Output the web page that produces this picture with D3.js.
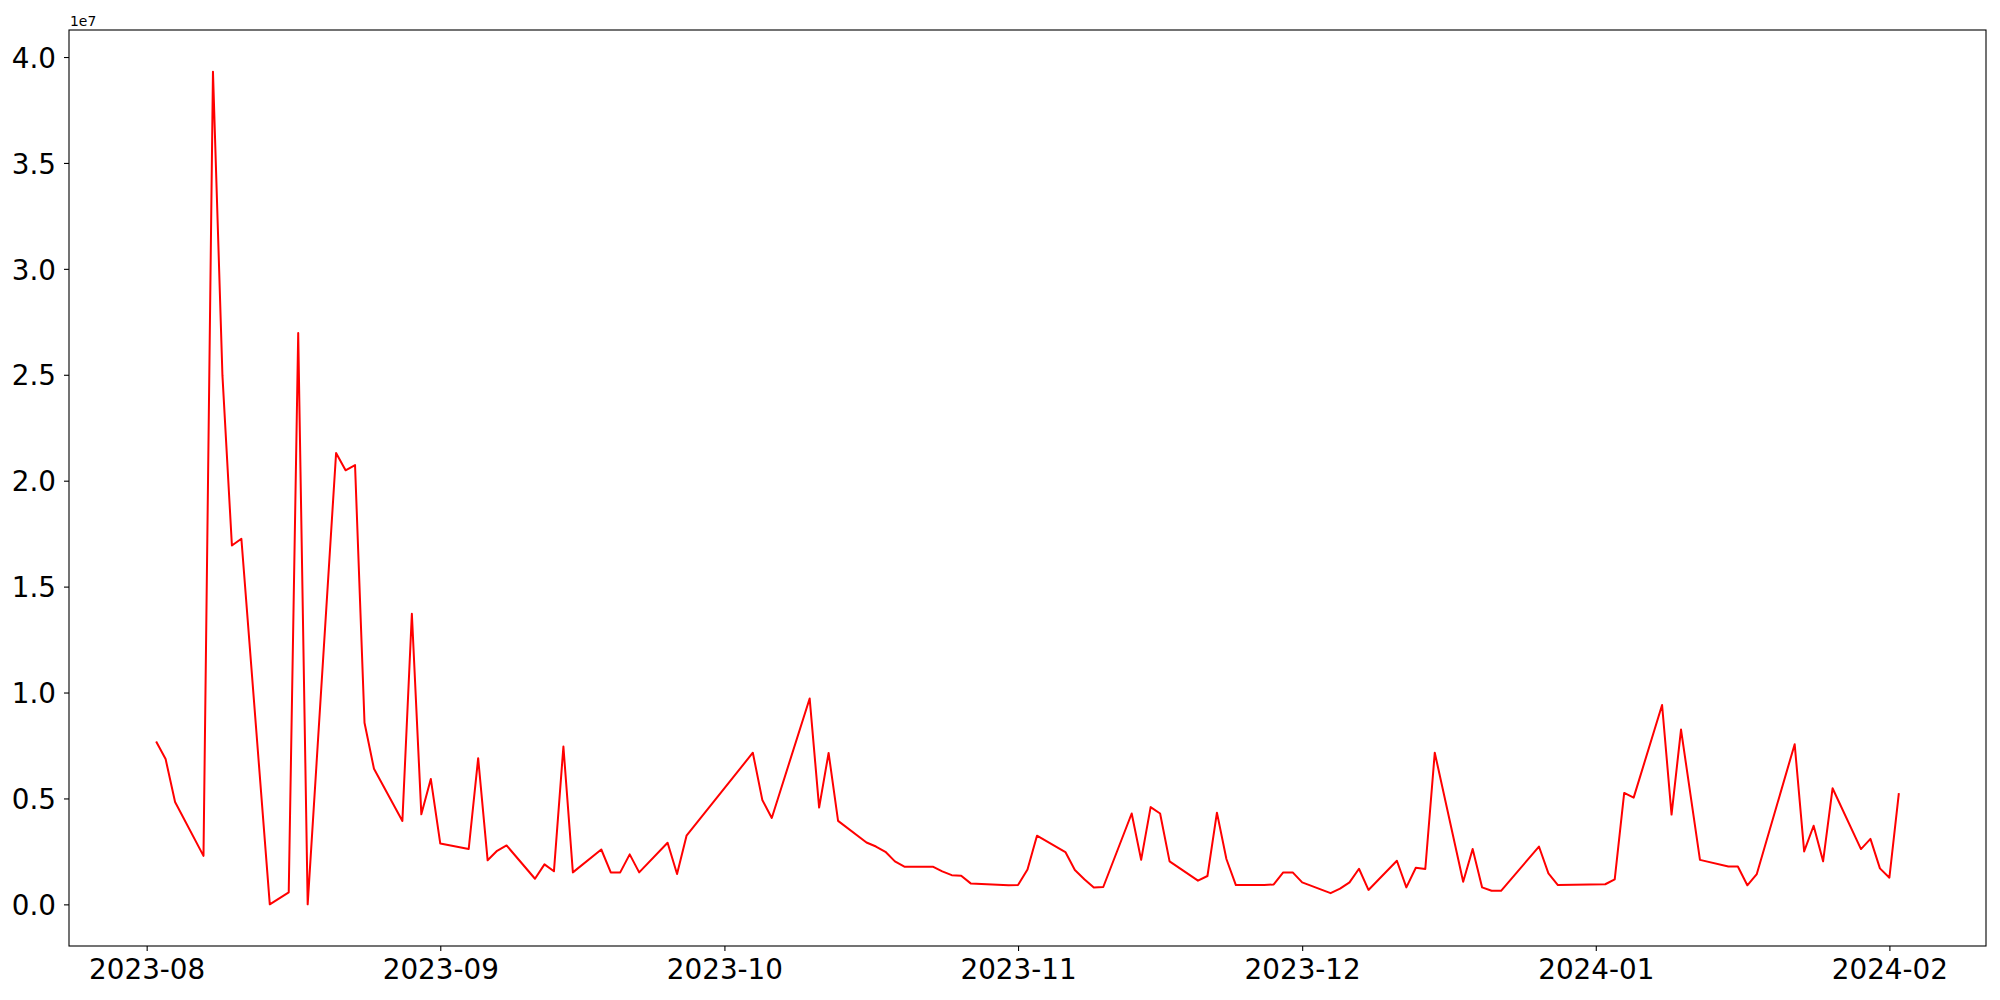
<!DOCTYPE html>
<html>
<head>
<meta charset="utf-8">
<script src="https://cdn.jsdelivr.net/npm/d3@7"></script>
<style>
  html, body { margin: 0; padding: 0; background: #fff; }
  #chart text { font-family: "DejaVu Sans", sans-serif; fill: #000; }
</style>
</head>
<body>
<div id="chart"></div>
<script>
// Trading days.
const dates = [
  '2023-08-02','2023-08-03','2023-08-04','2023-08-07','2023-08-08','2023-08-09','2023-08-10','2023-08-11',
  '2023-08-14','2023-08-16','2023-08-17','2023-08-18','2023-08-21','2023-08-22','2023-08-23','2023-08-24',
  '2023-08-25','2023-08-28','2023-08-29','2023-08-30','2023-08-31','2023-09-01','2023-09-04','2023-09-05',
  '2023-09-06','2023-09-07','2023-09-08','2023-09-11','2023-09-12','2023-09-13','2023-09-14','2023-09-15',
  '2023-09-18','2023-09-19','2023-09-20','2023-09-21','2023-09-22','2023-09-25','2023-09-26','2023-09-27',
  '2023-10-04','2023-10-05','2023-10-06','2023-10-10','2023-10-11','2023-10-12','2023-10-13','2023-10-16',
  '2023-10-17','2023-10-18','2023-10-19','2023-10-20','2023-10-23','2023-10-24','2023-10-25','2023-10-26',
  '2023-10-27','2023-10-31','2023-11-01','2023-11-02','2023-11-03','2023-11-06','2023-11-07','2023-11-08',
  '2023-11-09','2023-11-10','2023-11-13','2023-11-14','2023-11-15','2023-11-16','2023-11-17','2023-11-20',
  '2023-11-21','2023-11-22','2023-11-23','2023-11-24','2023-11-27','2023-11-28','2023-11-29','2023-11-30',
  '2023-12-01','2023-12-04','2023-12-05','2023-12-06','2023-12-07','2023-12-08','2023-12-11','2023-12-12',
  '2023-12-13','2023-12-14','2023-12-15','2023-12-18','2023-12-19','2023-12-20','2023-12-21','2023-12-22',
  '2023-12-26','2023-12-27','2023-12-28','2024-01-02','2024-01-03','2024-01-04','2024-01-05','2024-01-08',
  '2024-01-09','2024-01-10','2024-01-12','2024-01-15','2024-01-16','2024-01-17','2024-01-18','2024-01-22',
  '2024-01-23','2024-01-24','2024-01-25','2024-01-26','2024-01-29','2024-01-30','2024-01-31','2024-02-01',
  '2024-02-02'
];

// Values in units of 1e7 (same order as dates).
const values = [
  0.769, 0.686, 0.483, 0.229, 3.931, 2.497, 1.694, 1.726,
  0.000, 0.057, 2.697, 0.000, 2.131, 2.049, 2.074, 0.857,
  0.640, 0.394, 1.372, 0.425, 0.592, 0.287, 0.261, 0.690,
  0.208, 0.253, 0.278, 0.121, 0.189, 0.156, 0.745, 0.151,
  0.259, 0.151, 0.151, 0.236, 0.151, 0.291, 0.143, 0.324,
  0.716, 0.493, 0.408, 0.972, 0.457, 0.715, 0.394, 0.292,
  0.273, 0.248, 0.203, 0.178, 0.178, 0.156, 0.138, 0.135,
  0.099, 0.090, 0.091, 0.165, 0.324, 0.247, 0.162, 0.119,
  0.080, 0.082, 0.429, 0.210, 0.459, 0.429, 0.203, 0.112,
  0.134, 0.433, 0.214, 0.091, 0.091, 0.094, 0.151, 0.151,
  0.104, 0.053, 0.074, 0.104, 0.168, 0.068, 0.206, 0.080,
  0.173, 0.167, 0.716, 0.107, 0.261, 0.080, 0.064, 0.064,
  0.273, 0.146, 0.091, 0.095, 0.118, 0.526, 0.504, 0.941,
  0.424, 0.825, 0.210, 0.179, 0.179, 0.090, 0.143, 0.756,
  0.250, 0.371, 0.203, 0.548, 0.261, 0.309, 0.170, 0.126,
  0.525
];

const xTicks = ['2023-08','2023-09','2023-10','2023-11','2023-12','2024-01','2024-02'];
const yTicks = [0, 0.5, 1.0, 1.5, 2.0, 2.5, 3.0, 3.5, 4.0];

(function(){
  const width = 2000, height = 1000;
  const margin = {top: 30, right: 14, bottom: 54, left: 69};
  const innerWidth = width - margin.left - margin.right;
  const innerHeight = height - margin.top - margin.bottom;

  const parseDay = d3.utcParse('%Y-%m-%d');
  const parseMonth = d3.utcParse('%Y-%m');
  const rows = dates.map((d, i) => ({date: parseDay(d), value: values[i] * 1e7}));

  const svg = d3.select('#chart').append('svg')
    .attr('width', width)
    .attr('height', height);

  const plot = svg.append('g')
    .attr('transform', `translate(${margin.left},${margin.top})`);

  // Matplotlib-style 5% padding on both axes.
  const [x0, x1] = d3.extent(rows, d => d.date);
  const xPad = (x1 - x0) * 0.05;
  const x = d3.scaleUtc()
    .domain([new Date(+x0 - xPad), new Date(+x1 + xPad)])
    .range([0, innerWidth]);

  const [y0, y1] = d3.extent(rows, d => d.value);
  const yPad = (y1 - y0) * 0.05;
  const y = d3.scaleLinear()
    .domain([y0 - yPad, y1 + yPad])
    .range([innerHeight, 0]);

  const fontSize = 27.8;

  const xAxis = d3.axisBottom(x)
    .tickValues(xTicks.map(parseMonth))
    .tickFormat(d3.utcFormat('%Y-%m'))
    .tickSize(5)
    .tickPadding(5)
    .tickSizeOuter(0);

  const yAxis = d3.axisLeft(y)
    .tickValues(yTicks.map(v => v * 1e7))
    .tickFormat(v => (v / 1e7).toFixed(1))
    .tickSize(5)
    .tickPadding(8)
    .tickSizeOuter(0);

  const gx = plot.append('g')
    .attr('transform', `translate(0,${innerHeight})`)
    .call(xAxis);
  gx.select('.domain').remove();
  gx.selectAll('.tick line').attr('stroke', '#000').attr('stroke-width', 1.1);
  gx.selectAll('.tick text')
    .attr('font-size', fontSize)
    .attr('dy', '0.84em');

  const gy = plot.append('g').call(yAxis);
  gy.select('.domain').remove();
  gy.selectAll('.tick line').attr('stroke', '#000').attr('stroke-width', 1.1);
  gy.selectAll('.tick text')
    .attr('font-size', fontSize)
    .attr('dy', '0.365em');

  // Offset label for the y axis.
  plot.append('text')
    .attr('x', 1)
    .attr('y', -4)
    .attr('font-size', 13.9)
    .text('1e7');

  // The series line.
  const line = d3.line()
    .x(d => x(d.date))
    .y(d => y(d.value));

  plot.append('path')
    .datum(rows)
    .attr('fill', 'none')
    .attr('stroke', '#ff0000')
    .attr('stroke-width', 2)
    .attr('stroke-linejoin', 'round')
    .attr('d', line);

  // Axes frame.
  plot.append('rect')
    .attr('x', 0)
    .attr('y', 0)
    .attr('width', innerWidth)
    .attr('height', innerHeight)
    .attr('fill', 'none')
    .attr('stroke', '#000')
    .attr('stroke-width', 1.1);
})();
</script>
</body>
</html>
